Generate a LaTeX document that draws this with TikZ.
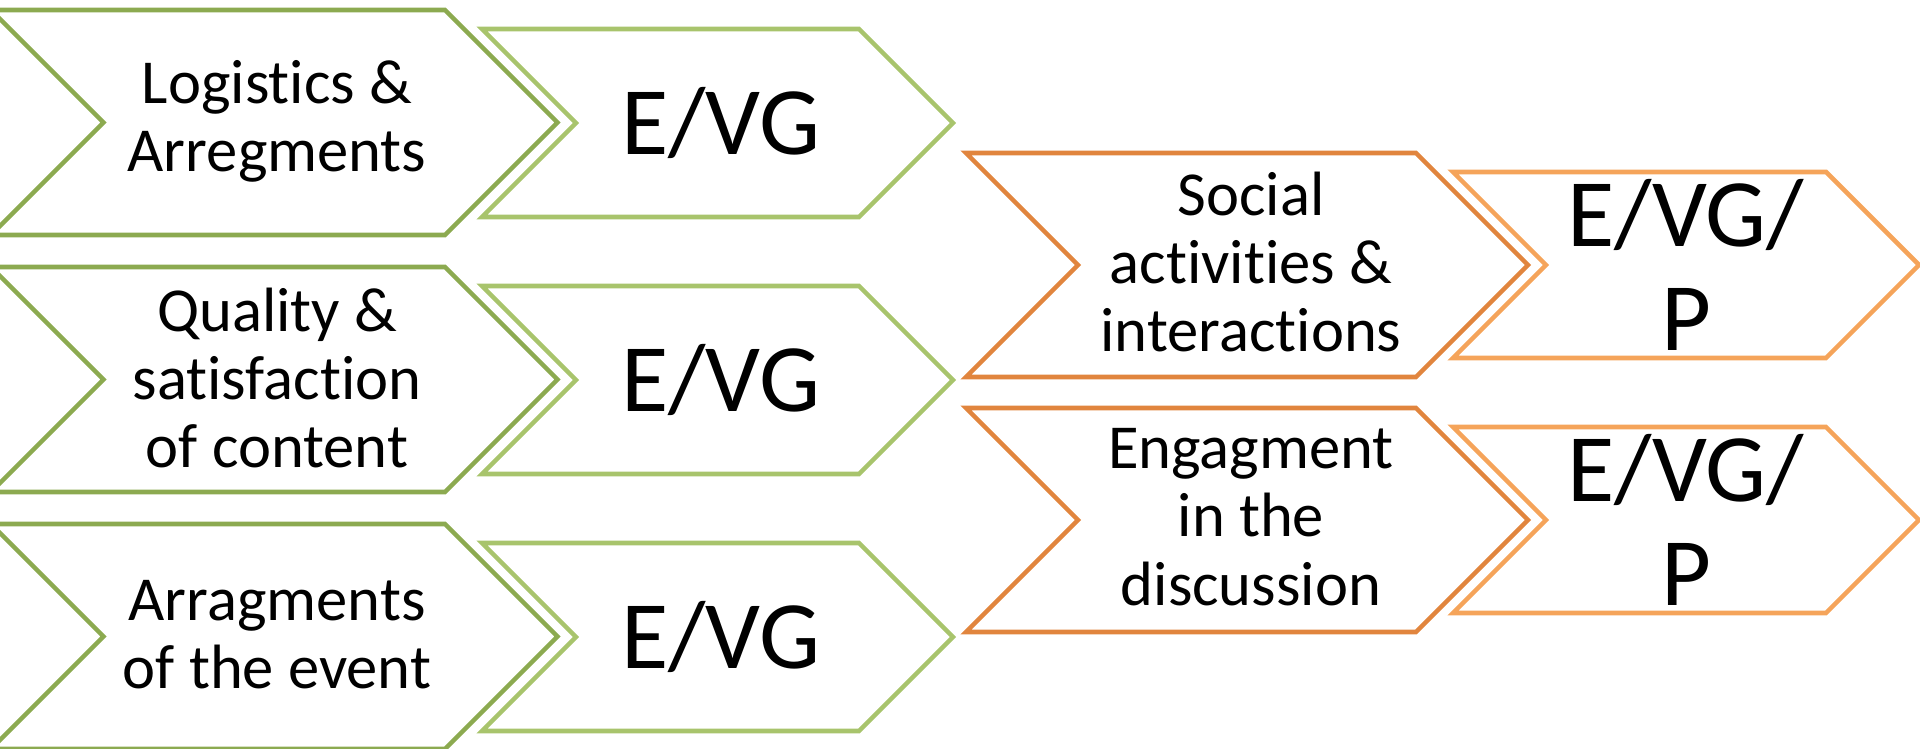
\documentclass[tikz,border=0pt]{standalone}
\usepackage{fontspec}
\setmainfont{Carlito}[Ligatures=NoCommon]
\definecolor{greendark}{RGB}{140,170,80}
\definecolor{greenlight}{RGB}{168,196,108}
\definecolor{orangedark}{RGB}{225,133,62}
\definecolor{orangelight}{RGB}{245,164,90}
\begin{document}
\begin{tikzpicture}[x=0.01cm,y=-0.01cm,
    chev/.style={line width=1.3pt,line join=miter},
    txtsmall/.style={font=\fontsize{17.8}{19.4}\selectfont,align=center},
    txtlarge/.style={font=\fontsize{27.5}{29.6}\selectfont,align=center}]
  \useasboundingbox (0,0) rectangle (1920,749);
  \clip (0,0) rectangle (1920,749);
  % green rows
  \draw[chev,greendark] (-9,10) -- (445,10) -- (557.5,122.5) -- (445,235) -- (-9,235) -- (103.5,122.5) -- cycle;
  \draw[chev,greenlight] (482,29) -- (859,29) -- (953,123) -- (859,217) -- (482,217) -- (576,123) -- cycle;
  \draw[chev,greendark] (-9,267) -- (445,267) -- (557.5,379.5) -- (445,492) -- (-9,492) -- (103.5,379.5) -- cycle;
  \draw[chev,greenlight] (482,286) -- (859,286) -- (953,380) -- (859,474) -- (482,474) -- (576,380) -- cycle;
  \draw[chev,greendark] (-9,524) -- (445,524) -- (557.5,636.5) -- (445,749) -- (-9,749) -- (103.5,636.5) -- cycle;
  \draw[chev,greenlight] (482,543) -- (859,543) -- (953,637) -- (859,731) -- (482,731) -- (576,637) -- cycle;
  \node[txtsmall] (logistics) at (277,121) {Logistics \&\\Arregments};
  \node[txtlarge] (logisticsres) at (721,123) {E/VG};
  \node[txtsmall] (quality) at (277,378) {Quality \&\\satisfaction\\of content};
  \node[txtlarge] (qualityres) at (721,380) {E/VG};
  \node[txtsmall] (event) at (277,635) {Arragments\\of the event};
  \node[txtlarge] (eventres) at (721,637) {E/VG};
  % orange rows
  \draw[chev,orangedark] (966,153) -- (1416,153) -- (1528,265) -- (1416,377) -- (966,377) -- (1078,265) -- cycle;
  \draw[chev,orangelight] (1453,172) -- (1826,172) -- (1919,265) -- (1826,358) -- (1453,358) -- (1546,265) -- cycle;
  \draw[chev,orangedark] (966,408) -- (1416,408) -- (1528,520) -- (1416,632) -- (966,632) -- (1078,520) -- cycle;
  \draw[chev,orangelight] (1453,427) -- (1826,427) -- (1919,520) -- (1826,613) -- (1453,613) -- (1546,520) -- cycle;
  \node[txtsmall] (social) at (1251,262) {Social\\activities \&\\interactions};
  \node[txtlarge] (socialres) at (1686,265) {E/VG/\\P};
  \node[txtsmall] (engage) at (1251,517) {Engagment\\in the\\discussion};
  \node[txtlarge] (engageres) at (1686,520) {E/VG/\\P};
\end{tikzpicture}
\end{document}
